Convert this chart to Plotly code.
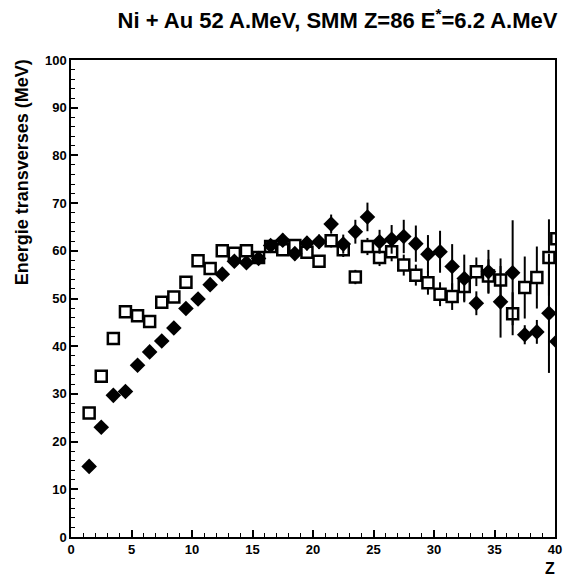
import plotly.graph_objects as go

# Bin centres (Z)
z = [1.5, 2.5, 3.5, 4.5, 5.5, 6.5, 7.5, 8.5, 9.5, 10.5,
     11.5, 12.5, 13.5, 14.5, 15.5, 16.5, 17.5, 18.5, 19.5, 20.5,
     21.5, 22.5, 23.5, 24.5, 25.5, 26.5, 27.5, 28.5, 29.5, 30.5,
     31.5, 32.5, 33.5, 34.5, 35.5, 36.5, 37.5, 38.5, 39.5, 40.15]

# Filled diamonds
et_diamond = [14.8, 23.0, 29.7, 30.5, 36.0, 38.8, 41.1, 43.8, 47.9, 49.9,
              52.9, 55.1, 57.8, 57.5, 58.4, 61.1, 62.2, 59.4, 61.6, 61.9,
              65.6, 61.4, 64.0, 67.1, 61.9, 62.4, 63.0, 61.5, 59.3, 59.8,
              56.7, 54.2, 49.0, 55.6, 49.3, 55.4, 42.4, 43.0, 46.9, 41.0]
err_diamond = [0.4, 0.4, 0.5, 0.5, 0.5, 0.5, 0.6, 0.6, 0.7, 0.7,
               0.8, 0.8, 0.9, 0.9, 1.0, 1.2, 1.4, 1.4, 1.5, 1.5,
               2.0, 2.0, 2.5, 3.0, 2.5, 3.0, 3.5, 3.8, 4.0, 4.4,
               4.7, 5.0, 2.5, 4.6, 7.5, 11.0, 2.0, 2.5, 12.5, 2.5]

# Open squares
et_square = [26.0, 33.7, 41.6, 47.2, 46.4, 45.2, 49.2, 50.3, 53.4, 57.9,
             56.3, 60.0, 59.5, 60.0, 58.6, 60.9, 60.2, 61.1, 59.7, 57.8,
             62.1, 60.2, 54.5, 60.9, 58.6, 59.8, 57.0, 54.9, 53.3, 50.9,
             50.4, 52.5, 55.6, 54.7, 53.9, 46.8, 52.3, 54.4, 58.6, 62.5]
err_square = [0.4, 0.4, 0.5, 0.5, 0.5, 0.5, 0.6, 0.6, 0.7, 0.7,
              0.8, 0.8, 0.9, 0.9, 1.0, 1.0, 1.1, 1.2, 1.2, 1.3,
              1.4, 1.5, 1.5, 1.8, 1.8, 2.0, 2.2, 2.2, 2.5, 2.5,
              2.8, 3.0, 3.0, 3.5, 4.5, 4.5, 6.5, 6.5, 8.0, 4.5]

x_ticks = [0, 5, 10, 15, 20, 25, 30, 35, 40]
y_ticks = [0, 10, 20, 30, 40, 50, 60, 70, 80, 90, 100]

FONT = "Liberation Sans"

fig = go.Figure()
fig.add_trace(go.Scatter(
    x=z, y=et_square, mode="markers",
    marker=dict(symbol="square", size=11, color="white",
                line=dict(width=2.5, color="black")),
    error_y=dict(type="data", array=err_square, visible=True,
                 thickness=2, width=0, color="black"),
    showlegend=False))
fig.add_trace(go.Scatter(
    x=z, y=et_diamond, mode="markers",
    marker=dict(symbol="diamond", size=12, color="black",
                line=dict(width=0)),
    error_y=dict(type="data", array=err_diamond, visible=True,
                 thickness=2, width=0, color="black"),
    showlegend=False))

tickfont = dict(family=FONT, size=13, color="black", weight="bold")

fig.update_layout(
    width=572, height=580,
    margin=dict(l=71, r=17, t=60, b=43),
    paper_bgcolor="white", plot_bgcolor="white",
    font=dict(family=FONT, color="black", size=13),
    title=dict(text="Ni + Au 52 A.MeV, SMM Z=86 E<sup>*</sup>=6.2 A.MeV",
               x=0.59, xanchor="center", y=0.965, yanchor="middle",
               font=dict(family=FONT, size=22, color="black", weight="bold")),
    xaxis=dict(range=[0, 40], tickvals=x_ticks, ticktext=[str(v) for v in x_ticks],
               ticks="inside", ticklen=7, tickwidth=1.5, tickcolor="black",
               minor=dict(dtick=1, ticks="inside", ticklen=4, tickwidth=1, tickcolor="black"),
               showline=True, linecolor="black", linewidth=1.5, mirror=True,
               showgrid=False, zeroline=False, automargin=False,
               tickfont=tickfont),
    yaxis=dict(range=[0, 100], tickvals=y_ticks, ticktext=[str(v) for v in y_ticks],
               ticks="inside", ticklen=7, tickwidth=1.5, tickcolor="black",
               minor=dict(dtick=2, ticks="inside", ticklen=4, tickwidth=1, tickcolor="black"),
               showline=True, linecolor="black", linewidth=1.5, mirror=True,
               showgrid=False, zeroline=False, automargin=False,
               tickfont=tickfont),
    annotations=[
        dict(text="Energie transverses (MeV)", xref="paper", yref="paper",
             x=-0.077, y=1.005, xanchor="right", yanchor="top", textangle=-90,
             showarrow=False, font=dict(family=FONT, size=18, color="black", weight="bold")),
        dict(text="Z", xref="paper", yref="paper",
             x=0.99, y=-0.045, xanchor="center", yanchor="top",
             showarrow=False, font=dict(family=FONT, size=16, color="black", weight="bold")),
    ],
)

fig.write_html("out.html", config={"displayModeBar": False},
               post_script="document.body.style.margin='0';")
